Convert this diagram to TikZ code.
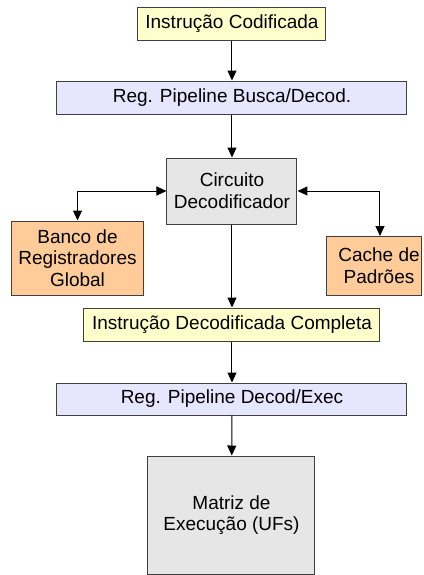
\documentclass[tikz,border=0pt]{standalone}
\usepackage{fontspec}
\setmainfont{Liberation Sans}
\usetikzlibrary{arrows.meta}
\definecolor{boxline}{HTML}{404040}
\definecolor{fillyellow}{HTML}{FFFFCC}
\definecolor{fillblue}{HTML}{E6E6FF}
\definecolor{fillgray}{HTML}{E6E6E6}
\definecolor{fillorange}{HTML}{FFCC99}
\begin{document}
\begin{tikzpicture}[x=0.5pt,y=-0.5pt,
  every node/.style={font=\fontsize{9.5}{10.85}\selectfont, align=center},
  block/.style={draw=boxline, line width=0.5pt, inner sep=0pt, rectangle},
  yellowbox/.style={block, fill=fillyellow},
  bluebox/.style={block, fill=fillblue},
  graybox/.style={block, fill=fillgray},
  orangebox/.style={block, fill=fillorange},
  flow/.style={line width=0.5pt, -{Triangle[length=5pt,width=4.5pt]}},
  bothflow/.style={line width=0.5pt, {Triangle[length=5pt,width=4.5pt]}-{Triangle[length=5pt,width=4.5pt]}}]
\useasboundingbox (0,0) rectangle (424,575);

% pipeline blocks
\node[yellowbox, minimum width=94pt, minimum height=16.5pt] (ic) at (232,23.5) {Instrução Codificada};
\node[bluebox, minimum width=175pt, minimum height=16.5pt] (rb) at (232,97.5) {Reg. Pipeline Busca/Decod.};
\node[graybox, minimum width=65pt, minimum height=33pt] (cd) at (232,191) {Circuito\\Decodificador};
\node[orangebox, minimum width=66pt, minimum height=37pt] (bg) at (77.5,258) {Banco de\\Registradores\\Global};
\node[orangebox, minimum width=47.5pt, minimum height=29.5pt] (cp) at (374.5,265.5) {};
\node (cpt) at (379,265.5) {Cache de\\Padrões};
\node[yellowbox, minimum width=148pt, minimum height=16.5pt] (idc) at (232,324.5) {Instrução Decodificada Completa};
\node[bluebox, minimum width=175pt, minimum height=16pt] (rde) at (232,399) {Reg. Pipeline Decod/Exec};
\node[graybox, minimum width=83.5pt, minimum height=59pt] (mx) at (231.5,515) {Matriz de\\Execução (UFs)};

% connectors
\coordinate (cpin) at (380,236);
\draw[flow] (ic) -- (rb);
\draw[flow] (rb) -- (cd);
\draw[bothflow] (cd.west) -| (bg.north);
\draw[bothflow] (cd.east) -| (cpin);
\draw[flow] (cd) -- (idc);
\draw[flow] (idc) -- (rde);
\draw[flow] (rde) -- (mx);
\end{tikzpicture}
\end{document}
